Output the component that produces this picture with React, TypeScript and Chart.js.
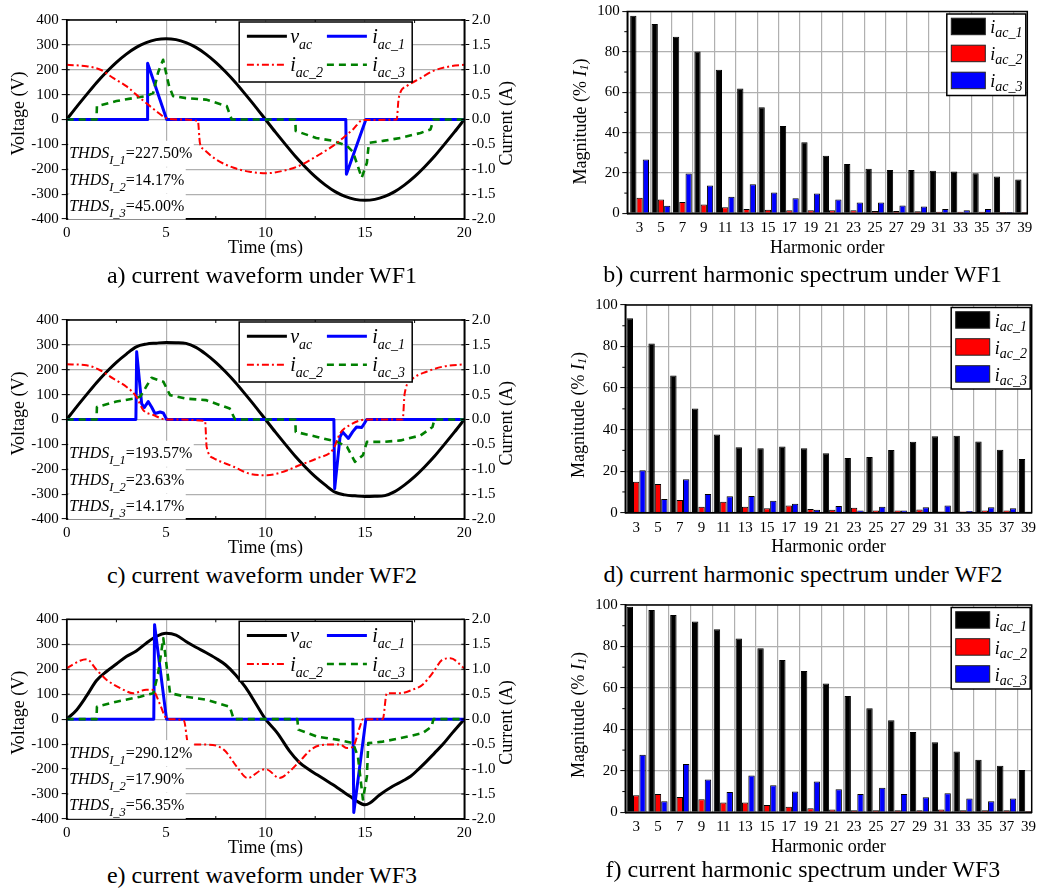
import React, { useEffect, useRef } from 'react';
import { Chart, registerables } from 'chart.js';

Chart.register(...registerables);

const FONT = '"Liberation Serif", "Times New Roman", Times, serif';
Chart.defaults.font.family = FONT;
Chart.defaults.color = '#000';

// ---------------- waveform data (time ms, voltage V, current A) ----------------
const T_GRID = [0, 0.5, 1, 1.5, 2, 2.5, 3, 3.5, 4, 4.5, 5, 5.5, 6, 6.5, 7, 7.5, 8, 8.5, 9, 9.5, 10, 10.5, 11, 11.5, 12, 12.5, 13, 13.5, 14, 14.5, 15, 15.5, 16, 16.5, 17, 17.5, 18, 18.5, 19, 19.5, 20];

// WF1
const WF1_VAC = [0, 51, 100, 148, 191, 230, 263, 290, 309, 321, 325, 321, 309, 290, 263, 230, 191, 148, 100, 51, 0, -51, -100, -148, -191, -230, -263, -290, -309, -321, -325, -321, -309, -290, -263, -230, -191, -148, -100, -51, 0];
const WF1_I1_T = [0, 4.04, 4.07, 5.03, 14.04, 14.07, 15.05, 20];
const WF1_I1 = [0, 0, 1.13, 0, 0, -1.1, 0, 0];
const WF1_I2_T = [0, 1.0, 1.7, 2.35, 3.0, 3.5, 4.0, 4.5, 5.0, 5.7, 6.6, 6.7, 6.9, 7.5, 8.4, 9.2, 10.05, 10.9, 11.7, 12.6, 13.4, 13.9, 14.4, 14.9, 16.6, 16.7, 17.1, 17.8, 18.4, 19.3, 20];
const WF1_I2 = [1.10, 1.07, 1.0, 0.83, 0.67, 0.5, 0.33, 0.17, 0.03, 0, -0.03, -0.47, -0.6, -0.8, -0.97, -1.05, -1.08, -1.03, -0.93, -0.73, -0.53, -0.37, -0.2, -0.01, 0, 0.43, 0.67, 0.83, 0.97, 1.07, 1.10];
const WF1_I3_T = [0, 1.5, 1.52, 2.5, 3.35, 4.0, 4.35, 4.6, 4.85, 5.15, 5.35, 6.0, 7.0, 8.05, 8.3, 11.5, 11.52, 12.55, 13.4, 14.1, 14.4, 14.84, 15.1, 15.2, 15.9, 16.8, 17.8, 18.3, 18.45, 20];
const WF1_I3 = [0, 0, 0.27, 0.37, 0.43, 0.47, 0.53, 0.95, 1.2, 0.67, 0.47, 0.43, 0.40, 0.27, 0, 0, -0.23, -0.37, -0.43, -0.53, -0.65, -1.17, -0.87, -0.47, -0.43, -0.37, -0.27, -0.2, 0, 0];
const THDS_WF1 = ['227.50%', '14.17%', '45.00%'];

// WF2
const WF2_VAC = [0, 51, 100, 148, 191, 230, 263, 292, 303, 307, 310, 309, 306, 290, 263, 230, 191, 148, 100, 51, 0, -51, -100, -148, -191, -230, -263, -292, -303, -307, -310, -309, -306, -290, -263, -230, -191, -148, -100, -51, 0];
const WF2_I1_T = [0, 3.48, 3.52, 3.77, 3.9, 4.1, 4.27, 4.44, 4.7, 4.86, 5.03, 13.44, 13.48, 13.75, 13.88, 14.17, 14.38, 14.58, 14.84, 14.97, 15.09, 20];
const WF2_I1 = [0, 0, 1.36, 0.32, 0.24, 0.36, 0.25, 0.12, 0.15, 0.13, 0, 0, -1.39, -0.35, -0.25, -0.38, -0.25, -0.15, -0.16, -0.08, 0, 0];
const WF2_I2_T = [0, 1.0, 1.68, 2.35, 3.0, 3.5, 3.85, 4.36, 5.0, 6.96, 7.04, 7.4, 8.4, 9.2, 10.06, 10.9, 11.7, 12.6, 13.4, 13.75, 14.25, 15.1, 16.9, 17.0, 17.4, 18.1, 18.9, 20];
const WF2_I2 = [1.11, 1.09, 0.99, 0.82, 0.66, 0.46, 0.19, 0.09, 0, -0.03, -0.55, -0.78, -0.95, -1.09, -1.12, -1.05, -0.92, -0.78, -0.6, -0.28, -0.11, 0, 0, 0.52, 0.82, 0.96, 1.06, 1.11];
const WF2_I3_T = [0, 1.5, 1.52, 2.5, 3.35, 3.7, 4.0, 4.27, 4.86, 5.2, 6.0, 7.0, 8.2, 8.47, 11.5, 11.52, 12.6, 13.6, 14.1, 14.5, 14.9, 15.1, 15.9, 16.8, 17.8, 18.4, 18.5, 20];
const WF2_I3 = [0, 0, 0.25, 0.36, 0.42, 0.46, 0.66, 0.84, 0.76, 0.49, 0.42, 0.39, 0.22, 0, 0, -0.25, -0.35, -0.45, -0.55, -0.85, -0.72, -0.45, -0.45, -0.42, -0.32, -0.15, 0, 0];
const THDS_WF2 = ['193.57%', '23.63%', '14.17%'];

// WF3
const WF3_VAC_T = [0, 0.5, 1.0, 1.5, 2.0, 2.5, 3.0, 3.5, 4.0, 4.5, 5.0, 5.5, 6.0, 6.5, 7.0, 7.5, 8.0, 8.5, 9.0, 9.5, 10.0, 10.6, 11.2, 11.7, 12.2, 12.6, 13.0, 13.4, 13.8, 14.25, 14.6, 15.0, 15.25, 15.75, 16.4, 16.9, 17.3, 17.7, 18.1, 18.5, 18.9, 19.4, 20];
const WF3_VAC = [0, 37, 93, 155, 191, 221, 251, 273, 304, 331, 344, 337, 311, 288, 267, 244, 217, 177, 127, 64, 0, -56, -127, -173, -203, -223, -243, -263, -285, -309, -329, -343, -336, -303, -269, -248, -229, -200, -169, -136, -103, -55, 0];
const WF3_I1_T = [0, 4.38, 4.42, 5.02, 14.4, 14.44, 15.05, 20];
const WF3_I1 = [0, 0, 1.89, 0, 0, -1.87, 0, 0];
const WF3_I2_T = [0, 0.67, 1.0, 1.5, 2.0, 2.7, 3.35, 4.0, 4.3, 4.7, 4.95, 5.2, 5.9, 6.1, 6.4, 7.0, 7.9, 8.55, 9.1, 9.9, 10.05, 10.7, 11.2, 11.7, 12.4, 13.1, 13.75, 14.1, 14.4, 14.75, 14.9, 15.9, 16.1, 16.8, 17.4, 17.9, 18.4, 18.9, 19.3, 20];
const WF3_I2 = [1.02, 1.17, 1.2, 0.99, 0.79, 0.62, 0.52, 0.59, 0.59, 0.29, 0.05, 0, -0.03, -0.48, -0.51, -0.51, -0.61, -0.95, -1.18, -1.01, -1.01, -1.18, -1.05, -0.85, -0.58, -0.51, -0.51, -0.58, -0.55, -0.15, 0, 0, 0.52, 0.52, 0.59, 0.69, 0.92, 1.19, 1.22, 1.02];
const WF3_I3_T = [0, 1.5, 1.52, 2.5, 3.7, 4.36, 4.6, 4.86, 5.03, 5.2, 6.0, 7.0, 8.2, 8.4, 11.6, 11.65, 12.6, 13.6, 14.4, 14.65, 14.9, 15.1, 15.17, 15.9, 16.8, 17.9, 18.35, 18.45, 20];
const WF3_I3 = [0, 0, 0.25, 0.35, 0.45, 0.52, 0.92, 1.62, 1.05, 0.52, 0.45, 0.39, 0.25, 0, 0, -0.21, -0.35, -0.41, -0.48, -0.75, -1.61, -1.15, -0.48, -0.45, -0.38, -0.28, -0.15, 0, 0];
const THDS_WF3 = ['290.12%', '17.90%', '56.35%'];

const TIME_MINOR_TICKS = [2.5, 7.5, 12.5, 17.5];

// ---------------- spectrum data (% of I1) ----------------
const HARMONICS = [3, 5, 7, 9, 11, 13, 15, 17, 19, 21, 23, 25, 27, 29, 31, 33, 35, 37, 39];
const HARMONIC_GRID = [4, 6, 8, 10, 12, 14, 16, 18, 20, 22, 24, 26, 28, 30, 32, 34, 36, 38];
const MAG_MINOR_TICKS = [10, 30, 50, 70, 90];

const WF1_H1 = [97.9, 93.8, 87.5, 80.2, 71.1, 61.8, 52.5, 43.3, 35.2, 28.5, 24.4, 22.1, 21.5, 21.5, 21.1, 20.7, 19.8, 18.2, 16.7];
const WF1_H2 = [7.7, 6.9, 5.6, 4.3, 3.0, 2.1, 1.8, 1.5, 1.5, 1.5, 1.5, 1.1, 1.1, 1.0, 0.8, 0.8, 0.8, 0.6, 0.6];
const WF1_H3 = [26.6, 3.8, 19.7, 13.8, 8.2, 14.4, 10.3, 7.5, 9.8, 6.9, 5.4, 5.4, 3.9, 3.4, 2.1, 1.5, 2.1, 0.6, 0.5];

const WF2_H1 = [93.6, 81.5, 66.1, 50.2, 37.7, 31.5, 31.0, 31.9, 31.0, 28.6, 26.3, 26.8, 30.2, 34.2, 36.8, 37.1, 34.3, 30.3, 25.8];
const WF2_H2 = [14.9, 13.8, 6.1, 2.9, 5.3, 2.9, 2.1, 3.5, 1.8, 1.4, 2.4, 1.1, 1.0, 1.6, 0.6, 0.6, 1.0, 1.0, 0.5];
const WF2_H3 = [20.4, 6.6, 16.1, 9.0, 7.9, 8.0, 5.8, 4.3, 1.4, 3.2, 1.1, 2.9, 1.1, 2.6, 3.5, 0.8, 2.6, 2.1, 1.5];

const WF3_H1 = [99.2, 97.6, 95.2, 92.0, 88.3, 83.9, 79.1, 73.5, 68.2, 62.1, 56.1, 50.2, 44.4, 38.7, 33.8, 29.3, 25.4, 22.5, 20.4];
const WF3_H2 = [8.2, 8.8, 7.4, 6.3, 4.7, 4.7, 3.5, 2.7, 1.9, 1.3, 1.0, 1.0, 1.0, 1.0, 1.3, 1.0, 1.0, 1.0, 0.6];
const WF3_H3 = [27.8, 5.3, 23.3, 15.8, 9.8, 17.8, 13.0, 10.0, 14.8, 11.1, 8.8, 11.9, 8.8, 7.2, 9.2, 6.6, 5.3, 6.6, 5.0];

// ---------------- styles ----------------
const STYLE: any = {
  vac: { color: '#000000', width: 3, dash: [] },
  i1: { color: '#0000ff', width: 3, dash: [] },
  i2: { color: '#ff0000', width: 2, dash: [7, 3, 2, 3] },
  i3: { color: '#008000', width: 2.6, dash: [7, 5] },
};
const BAR_COLORS = ['#000000', '#ff0000', '#0000ff'];
const GRID_COLOR = '#b0b0b0';

const WAVE_PANELS = [
  { box: { left: 0, top: 0, width: 520, height: 270 }, area: { left: 66.7, top: 20, right: 464.3, bottom: 219 },
    vT: T_GRID, v: WF1_VAC, i1T: WF1_I1_T, i1: WF1_I1, i2T: WF1_I2_T, i2: WF1_I2, i3T: WF1_I3_T, i3: WF1_I3, thds: THDS_WF1 },
  { box: { left: 0, top: 290, width: 520, height: 270 }, area: { left: 66.7, top: 320, right: 464.3, bottom: 519 },
    vT: T_GRID, v: WF2_VAC, i1T: WF2_I1_T, i1: WF2_I1, i2T: WF2_I2_T, i2: WF2_I2, i3T: WF2_I3_T, i3: WF2_I3, thds: THDS_WF2 },
  { box: { left: 0, top: 590, width: 520, height: 270 }, area: { left: 66.7, top: 619.3, right: 464.3, bottom: 819 },
    vT: WF3_VAC_T, v: WF3_VAC, i1T: WF3_I1_T, i1: WF3_I1, i2T: WF3_I2_T, i2: WF3_I2, i3T: WF3_I3_T, i3: WF3_I3, thds: THDS_WF3 },
];

const BAR_PANELS = [
  { box: { left: 520, top: 0, width: 535, height: 270 }, area: { left: 627.3, top: 10, right: 1027.3, bottom: 213.3 }, range: [1.85, 39.25], h: [WF1_H1, WF1_H2, WF1_H3] },
  { box: { left: 520, top: 290, width: 535, height: 270 }, area: { left: 625.3, top: 305, right: 1031.7, bottom: 512.7 }, range: [2.0, 39.3], h: [WF2_H1, WF2_H2, WF2_H3] },
  { box: { left: 520, top: 590, width: 535, height: 270 }, area: { left: 625.3, top: 605, right: 1031.7, bottom: 812.3 }, range: [2.0, 39.3], h: [WF3_H1, WF3_H2, WF3_H3] },
];

const CAPTIONS = [
  { text: 'a) current waveform under WF1', cx: 262, cy: 277.5 },
  { text: 'b) current harmonic spectrum under WF1', cx: 802.7, cy: 277 },
  { text: 'c) current waveform under WF2', cx: 262, cy: 577.3 },
  { text: 'd) current harmonic spectrum under WF2', cx: 803, cy: 576.7 },
  { text: 'e) current waveform under WF3', cx: 262, cy: 877.3 },
  { text: 'f) current harmonic spectrum under WF3', cx: 803, cy: 871.7 },
];

// ---------------- helpers ----------------
type Seg = { t: string; it?: boolean; s: number; dy?: number };
const segFont = (g: Seg) => `${g.it ? 'italic ' : ''}${g.s}px ${FONT}`;
function drawSegs(ctx: CanvasRenderingContext2D, x: number, y: number, segs: Seg[], align: 'left' | 'center') {
  let total = 0;
  const ws = segs.map((g) => { ctx.font = segFont(g); const w = ctx.measureText(g.t).width; total += w; return w; });
  let cx = align === 'center' ? x - total / 2 : x;
  ctx.textAlign = 'left';
  segs.forEach((g, i) => { ctx.font = segFont(g); ctx.fillText(g.t, cx, y + (g.dy || 0)); cx += ws[i]; });
  return total;
}
function seg(ctx: any, x1: number, y1: number, x2: number, y2: number) {
  ctx.beginPath(); ctx.moveTo(x1, y1); ctx.lineTo(x2, y2); ctx.stroke();
}

function lineDs(t: number[], v: number[], st: any, axis: string, order: number, smooth: boolean) {
  return {
    data: t.map((x, i) => ({ x, y: v[i] })),
    xAxisID: 'x', yAxisID: axis,
    borderColor: st.color, borderWidth: st.width, borderDash: st.dash,
    borderJoinStyle: 'round', borderCapStyle: 'butt',
    pointRadius: 0, pointHoverRadius: 0, fill: false, order,
    tension: 0, cubicInterpolationMode: smooth ? 'monotone' : 'default',
  };
}

function wavePlugin(p: any) {
  return {
    id: 'waveOverlay',
    afterDraw(chart: any) {
      const ctx = chart.ctx as CanvasRenderingContext2D;
      const ca = chart.chartArea;
      const xs = chart.scales.x;
      const ys = chart.scales.y;
      ctx.save();
      ctx.strokeStyle = '#000';
      ctx.setLineDash([]);
      ctx.lineWidth = 1;
      TIME_MINOR_TICKS.forEach((t) => {
        const px = xs.getPixelForValue(t);
        seg(ctx, px, ca.bottom, px, ca.bottom - 3);
        seg(ctx, px, ca.top, px, ca.top + 3);
      });
      ys.ticks.forEach((tk: any) => {
        const py = ys.getPixelForValue(tk.value);
        seg(ctx, ca.left, py, ca.left + 3, py);
        seg(ctx, ca.right, py, ca.right - 3, py);
      });
      ctx.lineWidth = 1.5;
      ctx.strokeRect(ca.left, ca.top, ca.right - ca.left, ca.bottom - ca.top);

      // THDS annotations
      ctx.textBaseline = 'alphabetic';
      const bases = [138.3, 164.8, 191];
      p.thds.forEach((val: string, i: number) => {
        const segs: Seg[] = [
          { t: 'THDS', it: true, s: 16 },
          { t: `I_${i + 1}`, it: true, s: 12.5, dy: 6 },
          { t: `=${val}`, s: 16 },
        ];
        let w = 0;
        segs.forEach((g) => { ctx.font = segFont(g); w += ctx.measureText(g.t).width; });
        const y = ca.top + bases[i];
        ctx.fillStyle = '#fff';
        ctx.fillRect(ca.left + 1.5, y - 17.5, w + 2.5, 26);
        ctx.fillStyle = '#000';
        drawSegs(ctx, ca.left + 2.5, y, segs, 'left');
      });

      // legend
      const bx = ca.left + 172.5, by = ca.top + 2, bw = 173, bh = 60;
      ctx.fillStyle = '#fff';
      ctx.fillRect(bx, by, bw, bh);
      ctx.strokeStyle = '#000';
      ctx.lineWidth = 1.5;
      ctx.strokeRect(bx, by, bw, bh);
      const entries = [
        { col: 0, row: 0, st: STYLE.vac, main: 'v', sub: 'ac' },
        { col: 1, row: 0, st: STYLE.i1, main: 'i', sub: 'ac_1' },
        { col: 0, row: 1, st: STYLE.i2, main: 'i', sub: 'ac_2' },
        { col: 1, row: 1, st: STYLE.i3, main: 'i', sub: 'ac_3' },
      ];
      entries.forEach((e) => {
        const ly = by + (e.row === 0 ? 14.3 : 42.7);
        const lx = bx + (e.col === 0 ? 7.7 : 87.7);
        ctx.strokeStyle = e.st.color;
        ctx.lineWidth = e.st.width;
        ctx.setLineDash(e.st.dash);
        seg(ctx, lx, ly, lx + 40, ly);
        ctx.setLineDash([]);
        ctx.fillStyle = '#000';
        drawSegs(ctx, bx + (e.col === 0 ? 51 : 133), ly + 6.7, [
          { t: e.main, it: true, s: 20 },
          { t: e.sub, it: true, s: 14, dy: 6 },
        ], 'left');
      });

      // rotated axis titles
      ctx.fillStyle = '#000';
      ctx.textBaseline = 'middle';
      ctx.save();
      ctx.translate(19.5, ca.top + 93.5);
      ctx.rotate(-Math.PI / 2);
      drawSegs(ctx, 0, 0, [{ t: 'Voltage (V)', s: 18 }], 'center');
      ctx.restore();
      ctx.save();
      ctx.translate(507.5, ca.top + 103.3);
      ctx.rotate(-Math.PI / 2);
      drawSegs(ctx, 0, 0, [{ t: 'Current (A)', s: 18 }], 'center');
      ctx.restore();
      ctx.restore();
    },
  };
}

function waveConfig(p: any): any {
  const { box, area } = p;
  const xH = 40.1;
  const padTop = area.top - box.top;
  const yW = area.left - box.left;
  const y1W = box.left + box.width - area.right;
  const padBottom = box.top + box.height - area.bottom - xH;
  const tickFont = { family: FONT, size: 15 };
  return {
    type: 'line',
    data: {
      datasets: [
        lineDs(p.i2T, p.i2, STYLE.i2, 'y1', 0, true),
        lineDs(p.i3T, p.i3, STYLE.i3, 'y1', 1, false),
        lineDs(p.i1T, p.i1, STYLE.i1, 'y1', 2, false),
        lineDs(p.vT, p.v, STYLE.vac, 'y', 3, true),
      ],
    },
    options: {
      responsive: false, maintainAspectRatio: false, animation: false, devicePixelRatio: 1, events: [],
      layout: { padding: { left: 0, right: 0, top: padTop, bottom: padBottom } },
      plugins: { legend: { display: false }, tooltip: { enabled: false }, title: { display: false } },
      scales: {
        x: {
          type: 'linear', min: 0, max: 20, offset: false,
          ticks: { stepSize: 5, color: '#000', font: tickFont, padding: 5, maxRotation: 0 },
          grid: { color: GRID_COLOR, lineWidth: 1.2, drawTicks: false, offset: false },
          border: { display: true, color: '#000', width: 1.5 },
          title: { display: true, text: 'Time (ms)', color: '#000', font: { family: FONT, size: 18 }, padding: { top: 0, bottom: 0 } },
          afterFit: (s: any) => { s.height = xH; },
        },
        y: {
          type: 'linear', position: 'left', min: -400, max: 400,
          ticks: { stepSize: 100, color: '#000', font: tickFont, padding: 3 },
          grid: { color: GRID_COLOR, lineWidth: 1.2, drawTicks: true, tickLength: 5, tickColor: '#000', tickWidth: 1 },
          border: { display: true, color: '#000', width: 1.5 },
          afterFit: (s: any) => { s.width = yW; },
        },
        y1: {
          type: 'linear', position: 'right', min: -2, max: 2,
          ticks: { stepSize: 0.5, color: '#000', font: tickFont, padding: 2.5, callback: (v: any) => Number(v).toFixed(1) },
          grid: { drawOnChartArea: false, drawTicks: true, tickLength: 5, tickColor: '#000', tickWidth: 1 },
          border: { display: true, color: '#000', width: 1.5 },
          afterFit: (s: any) => { s.width = y1W; },
        },
      },
    },
    plugins: [wavePlugin(p)],
  };
}

function barPlugin() {
  return {
    id: 'barOverlay',
    afterDraw(chart: any) {
      const ctx = chart.ctx as CanvasRenderingContext2D;
      const ca = chart.chartArea;
      const ys = chart.scales.y;
      ctx.save();
      ctx.setLineDash([]);
      ctx.strokeStyle = '#000';
      ctx.lineWidth = 1;
      MAG_MINOR_TICKS.forEach((v) => {
        const py = ys.getPixelForValue(v);
        seg(ctx, ca.left - 3, py, ca.left, py);
      });
      ctx.lineWidth = 1.5;
      ctx.strokeRect(ca.left, ca.top, ca.right - ca.left, ca.bottom - ca.top);

      // legend
      const bw = 79, bh = 81.5;
      const bx = ca.right - 1.5 - bw, by = ca.top + 2.5;
      ctx.fillStyle = '#fff';
      ctx.fillRect(bx, by, bw, bh);
      ctx.strokeStyle = '#000';
      ctx.lineWidth = 1.5;
      ctx.strokeRect(bx, by, bw, bh);
      const rows = [4.2, 31.2, 58.2];
      rows.forEach((r, i) => {
        ctx.fillStyle = BAR_COLORS[i];
        ctx.fillRect(bx + 4.5, by + r, 34, 16.5);
        ctx.strokeStyle = '#222';
        ctx.lineWidth = 1;
        ctx.strokeRect(bx + 4.5, by + r, 34, 16.5);
        ctx.fillStyle = '#000';
        ctx.textBaseline = 'alphabetic';
        drawSegs(ctx, bx + 43.5, by + r + 15, [
          { t: 'i', it: true, s: 18 },
          { t: `ac_${i + 1}`, it: true, s: 14, dy: 4 },
        ], 'left');
      });

      // y title
      ctx.fillStyle = '#000';
      ctx.textBaseline = 'middle';
      ctx.save();
      ctx.translate(ca.left - 46.5, ca.top + 110);
      ctx.rotate(-Math.PI / 2);
      drawSegs(ctx, 0, 0, [
        { t: 'Magnitude (% ', s: 18 },
        { t: 'I', it: true, s: 18 },
        { t: '1', it: true, s: 12, dy: 4 },
        { t: ')', s: 18 },
      ], 'center');
      ctx.restore();
      ctx.restore();
    },
  };
}

function barConfig(p: any): any {
  const { box, area } = p;
  const xH = 45.8;
  const padTop = area.top - box.top;
  const yW = area.left - box.left;
  const padRight = box.left + box.width - area.right;
  const padBottom = box.top + box.height - area.bottom - xH;
  const tickFont = { family: FONT, size: 15 };
  const xMin = p.range[0];
  const xMax = p.range[1];
  return {
    type: 'bar',
    data: {
      datasets: p.h.map((vals: number[], k: number) => ({
        label: `i_ac_${k + 1}`,
        data: HARMONICS.map((h, i) => ({ x: h, y: vals[i] })),
        xAxisID: 'x', yAxisID: 'y',
        backgroundColor: BAR_COLORS[k], borderColor: '#000', borderWidth: 1,
        categoryPercentage: 0.88, barPercentage: 1, clip: 0,
      })),
    },
    options: {
      responsive: false, maintainAspectRatio: false, animation: false, devicePixelRatio: 1, events: [],
      layout: { padding: { left: 0, right: padRight, top: padTop, bottom: padBottom } },
      plugins: { legend: { display: false }, tooltip: { enabled: false }, title: { display: false } },
      scales: {
        x: {
          type: 'linear', position: 'bottom', min: xMin, max: xMax, offset: false,
          afterBuildTicks: (s: any) => { s.ticks = HARMONICS.map((v) => ({ value: v })); },
          ticks: { color: '#000', font: tickFont, padding: 6, autoSkip: false, maxRotation: 0, callback: (v: any) => String(v) },
          grid: { drawOnChartArea: false, drawTicks: false, offset: false },
          border: { display: true, color: '#000', width: 1.5 },
          title: { display: true, text: 'Harmonic order', color: '#000', font: { family: FONT, size: 18 }, padding: { top: 0, bottom: 0 } },
          afterFit: (s: any) => { s.height = xH; },
        },
        xg: {
          type: 'linear', position: 'bottom', min: xMin, max: xMax, offset: false,
          afterBuildTicks: (s: any) => { s.ticks = HARMONIC_GRID.map((v) => ({ value: v })); },
          ticks: { display: false },
          grid: { color: GRID_COLOR, lineWidth: 1.2, drawTicks: false, offset: false },
          border: { display: false },
          afterFit: (s: any) => { s.height = 0; },
        },
        y: {
          type: 'linear', position: 'left', min: 0, max: 100,
          ticks: { stepSize: 20, color: '#000', font: tickFont, padding: 2.5 },
          grid: { color: GRID_COLOR, lineWidth: 1.2, drawTicks: true, tickLength: 5, tickColor: '#000', tickWidth: 1 },
          border: { display: true, color: '#000', width: 1.5 },
          afterFit: (s: any) => { s.width = yW; },
        },
      },
    },
    plugins: [barPlugin()],
  };
}

function ChartCanvas({ box, config }: { box: any; config: any }) {
  const ref = useRef<HTMLCanvasElement>(null);
  useEffect(() => {
    const chart = new Chart(ref.current as HTMLCanvasElement, config);
    return () => chart.destroy();
  }, []);
  return (
    <canvas
      ref={ref}
      width={box.width}
      height={box.height}
      style={{ position: 'absolute', left: box.left, top: box.top, width: box.width, height: box.height }}
    />
  );
}

export default function App() {
  return (
    <div style={{ position: 'absolute', left: 0, top: 0, width: 1055, height: 890, background: '#fff', overflow: 'hidden' }}>
      {WAVE_PANELS.map((p, i) => <ChartCanvas key={'w' + i} box={p.box} config={waveConfig(p)} />)}
      {BAR_PANELS.map((p, i) => <ChartCanvas key={'b' + i} box={p.box} config={barConfig(p)} />)}
      {CAPTIONS.map((c) => (
        <div
          key={c.text}
          style={{
            position: 'absolute', left: c.cx - 300, width: 600, top: c.cy - 16.7,
            textAlign: 'center', fontFamily: FONT, fontSize: 24, lineHeight: '28px', color: '#000', whiteSpace: 'nowrap',
          }}
        >
          {c.text}
        </div>
      ))}
    </div>
  );
}
